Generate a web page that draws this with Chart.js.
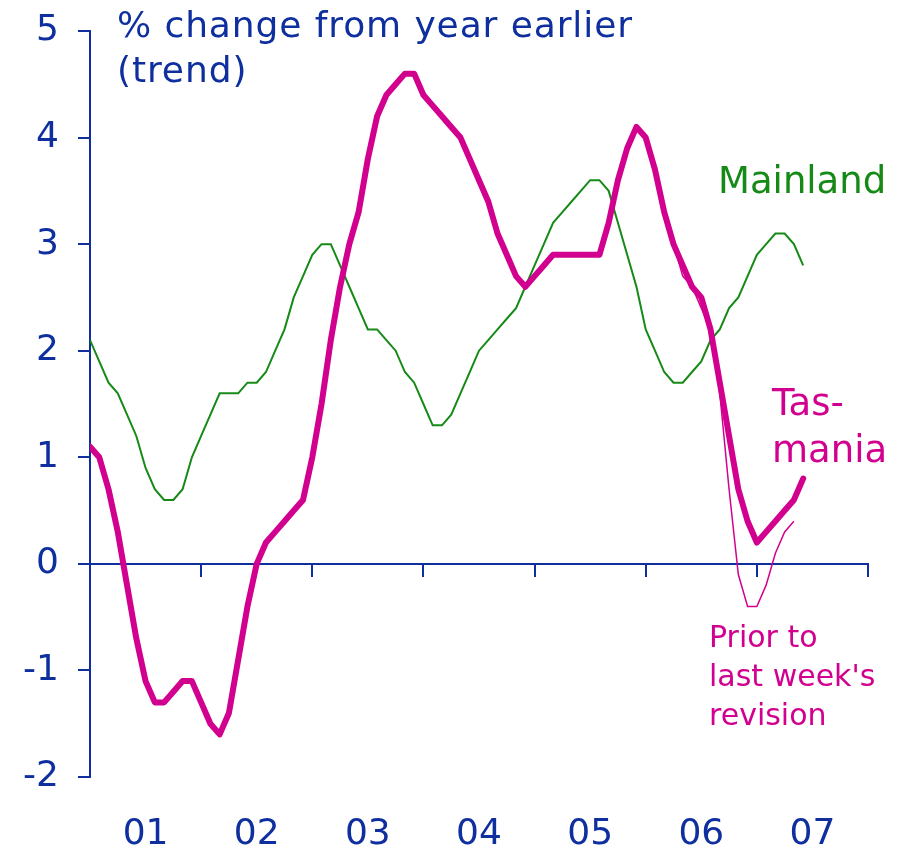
<!DOCTYPE html>
<html>
<head>
<meta charset="utf-8">
<script src="https://cdn.jsdelivr.net/npm/chart.js@4.4.0/dist/chart.umd.min.js"></script>
<style>
  body { margin: 0; background: #fff; }
  #wrap { width: 903px; height: 851px; }
</style>
</head>
<body>
<div id="wrap"><canvas id="myChart"></canvas></div>
<script>
// monthly, index 0 = Jan 2001
const years = ['01', '02', '03', '04', '05', '06', '07'];

const mainland = [2.1, 1.9, 1.7, 1.6, 1.4, 1.2, 0.9, 0.7, 0.6, 0.6, 0.7, 1.0,
  1.2, 1.4, 1.6, 1.6, 1.6, 1.7, 1.7, 1.8, 2.0, 2.2, 2.5, 2.7,
  2.9, 3.0, 3.0, 2.8, 2.6, 2.4, 2.2, 2.2, 2.1, 2.0, 1.8, 1.7,
  1.5, 1.3, 1.3, 1.4, 1.6, 1.8, 2.0, 2.1, 2.2, 2.3, 2.4, 2.6,
  2.8, 3.0, 3.2, 3.3, 3.4, 3.5, 3.6, 3.6, 3.5, 3.2, 2.9, 2.6,
  2.2, 2.0, 1.8, 1.7, 1.7, 1.8, 1.9, 2.1, 2.2, 2.4, 2.5, 2.7,
  2.9, 3.0, 3.1, 3.1, 3.0, 2.8];

const tasmania = [1.1, 1.0, 0.7, 0.3, -0.2, -0.7, -1.1, -1.3, -1.3, -1.2, -1.1, -1.1,
  -1.3, -1.5, -1.6, -1.4, -0.9, -0.4, 0.0, 0.2, 0.3, 0.4, 0.5, 0.6,
  1.0, 1.5, 2.1, 2.6, 3.0, 3.3, 3.8, 4.2, 4.4, 4.5, 4.6, 4.6,
  4.4, 4.3, 4.2, 4.1, 4.0, 3.8, 3.6, 3.4, 3.1, 2.9, 2.7, 2.6,
  2.7, 2.8, 2.9, 2.9, 2.9, 2.9, 2.9, 2.9, 3.2, 3.6, 3.9, 4.1,
  4.0, 3.7, 3.3, 3.0, 2.8, 2.6, 2.5, 2.2, 1.7, 1.2, 0.7, 0.4,
  0.2, 0.3, 0.4, 0.5, 0.6, 0.8];

// Tasmania before last week's revision (only where it differs)
const priorStart = 63;
const priorRevision = [3.0, 2.7, 2.6, 2.4, 2.2, 1.6, 0.7, -0.1, -0.4, -0.4, -0.2, 0.1, 0.3, 0.4];

const blue = '#0f2f9f';
const green = '#168a16';
const pink = '#d2008f';
const font = 'DejaVu Sans';

const pts = (arr, start) => arr.map((v, i) => ({x: i + (start || 0), y: v}));

// text notes on the chart
const notes = {
  id: 'notes',
  afterDraw(chart) {
    const c = chart.ctx;
    c.save();
    c.textAlign = 'left';
    c.textBaseline = 'alphabetic';
    c.font = '36px "' + font + '"';
    c.fillStyle = blue;
    c.letterSpacing = '0.9px';
    c.fillText('% change from year earlier', 117, 37);
    c.fillText('(trend)', 117, 82);
    c.letterSpacing = '0px';
    c.font = '37px "' + font + '"';
    c.fillStyle = green;
    c.fillText('Mainland', 718, 193);
    c.fillStyle = pink;
    c.fillText('Tas-', 772, 415);
    c.fillText('mania', 772, 462);
    c.font = '30px "' + font + '"';
    c.fillText('Prior to', 709, 647);
    c.fillText("last week's", 709, 686);
    c.fillText('revision', 709, 725);
    c.restore();
  }
};

const ctx = document.getElementById('myChart');

new Chart(ctx, {
  type: 'line',
  data: {
    datasets: [{
      label: 'Tasmania',
      data: pts(tasmania),
      borderColor: pink,
      borderWidth: 6,
      borderJoinStyle: 'round',
      borderCapStyle: 'round'
    }, {
      label: 'Mainland',
      data: pts(mainland),
      borderColor: green,
      borderWidth: 2
    }, {
      label: 'Prior to last week\'s revision',
      data: pts(priorRevision, priorStart),
      borderColor: pink,
      borderWidth: 1.5
    }]
  },
  options: {
    responsive: true,
    maintainAspectRatio: false,
    animation: false,
    elements: { point: { radius: 0 }, line: { tension: 0 } },
    layout: { autoPadding: false, padding: { left: 0, top: 31, right: 35, bottom: 0 } },
    plugins: { legend: { display: false }, tooltip: { enabled: false } },
    scales: {
      x: {
        type: 'linear',
        position: { y: 0 },
        min: 0,
        max: 84,
        ticks: { display: false, stepSize: 12 },
        grid: { drawOnChartArea: false, drawTicks: true, tickLength: 12, color: blue, lineWidth: 2 },
        border: { color: blue, width: 2 }
      },
      x2: {
        type: 'linear',
        position: 'bottom',
        min: 0,
        max: 84,
        afterBuildTicks: (s) => { s.ticks = years.map((y, i) => ({value: 6 + 12 * i})); },
        afterFit: (s) => { s.height = 74; },
        ticks: {
          padding: 36,
          color: blue,
          font: { family: font, size: 36 },
          maxRotation: 0,
          autoSkip: false,
          callback: (v, i) => years[i]
        },
        grid: { display: false, drawTicks: false },
        border: { display: false }
      },
      y: {
        min: -2,
        max: 5,
        ticks: { stepSize: 1, padding: 19, color: blue, font: { family: font, size: 36 } },
        afterFit: (s) => { s.width = 90; s.paddingTop = 0; s.paddingBottom = 0; },
        grid: { drawOnChartArea: false, drawTicks: true, tickLength: 12, color: blue, lineWidth: 2 },
        border: { color: blue, width: 2 }
      }
    }
  },
  plugins: [notes]
});
</script>
</body>
</html>
